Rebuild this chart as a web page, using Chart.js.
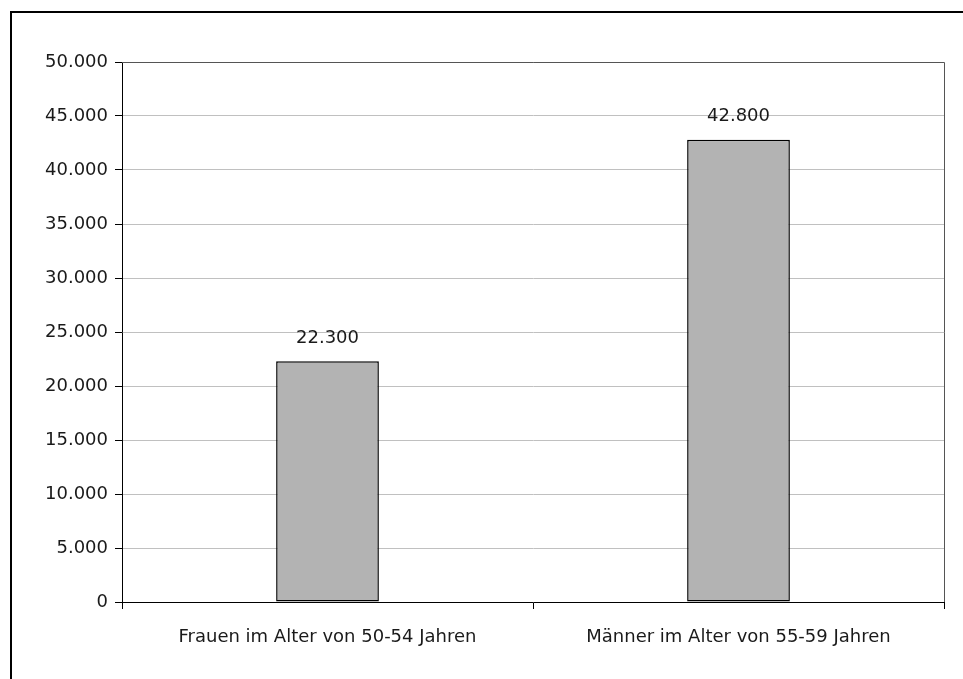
<!DOCTYPE html>
<html>
<head>
<meta charset="utf-8">
<script src="https://cdn.jsdelivr.net/npm/chart.js@4.4.1/dist/chart.umd.min.js"></script>
<style>
  html, body { margin: 0; padding: 0; background: #ffffff; }
  #wrap { width: 963px; height: 679px; position: relative; }
</style>
</head>
<body>
<div id="wrap"><canvas id="chart" width="963" height="679"></canvas></div>
<script>
// Categories and values
const categories = ['Frauen im Alter von 50-54 Jahren', 'Männer im Alter von 55-59 Jahren'];
const values = [22300, 42800];
const yMin = 0;
const yMax = 50000;
const yStep = 5000;

const FONT = "'DejaVu Sans', sans-serif";
const TEXT_COLOR = '#1a1a1a';

// German number format: thousands separated by a dot
function fmt(v) {
  return String(Math.round(v)).replace(/\B(?=(\d{3})+(?!\d))/g, '.');
}

// Outer frame around the whole chart
const framePlugin = {
  id: 'frame',
  beforeDraw(chart) {
    const ctx = chart.ctx;
    ctx.save();
    ctx.fillStyle = '#ffffff';
    ctx.fillRect(0, 0, chart.width, chart.height);
    ctx.strokeStyle = '#000000';
    ctx.lineWidth = 2;
    ctx.strokeRect(11, 12, 1200, 1200);
    ctx.restore();
  }
};

// Dark border on the top and right side of the plot area
const plotBorderPlugin = {
  id: 'plotBorder',
  afterDatasetsDraw(chart) {
    const { ctx, chartArea: a } = chart;
    ctx.save();
    ctx.strokeStyle = '#555555';
    ctx.lineWidth = 1;
    ctx.beginPath();
    ctx.moveTo(a.left, Math.round(a.top) + 0.5);
    ctx.lineTo(Math.round(a.right) + 0.5, Math.round(a.top) + 0.5);
    ctx.lineTo(Math.round(a.right) + 0.5, a.bottom);
    ctx.stroke();
    ctx.restore();
  }
};

// Value labels above the bars
const valueLabelPlugin = {
  id: 'valueLabels',
  afterDatasetsDraw(chart) {
    const ctx = chart.ctx;
    const meta = chart.getDatasetMeta(0);
    ctx.save();
    ctx.font = '18px ' + FONT;
    ctx.fillStyle = TEXT_COLOR;
    ctx.textAlign = 'center';
    ctx.textBaseline = 'middle';
    meta.data.forEach((bar, i) => {
      ctx.fillText(fmt(chart.data.datasets[0].data[i]), bar.x, bar.y - 23);
    });
    ctx.restore();
  }
};

new Chart(document.getElementById('chart'), {
  type: 'bar',
  data: {
    labels: categories,
    datasets: [{
      data: values,
      backgroundColor: '#b3b3b3',
      borderColor: '#000000',
      borderWidth: 1.5,
      borderSkipped: false,
      categoryPercentage: 1.0,
      barPercentage: 0.25
    }]
  },
  options: {
    responsive: false,
    animation: false,
    devicePixelRatio: 1,
    layout: { padding: { left: 0, top: 62, right: 19, bottom: 0 } },
    plugins: {
      legend: { display: false },
      tooltip: { enabled: false },
      title: { display: false }
    },
    scales: {
      x: {
        offset: true,
        grid: {
          offset: true,
          drawOnChartArea: false,
          drawTicks: true,
          tickLength: 7,
          tickColor: '#000000'
        },
        border: { color: '#000000', width: 1 },
        ticks: {
          color: TEXT_COLOR,
          font: { family: FONT, size: 18 },
          padding: 18,
          maxRotation: 0,
          autoSkip: false
        },
        afterFit(scale) { scale.height = 77; }
      },
      y: {
        min: yMin,
        max: yMax,
        ticks: {
          stepSize: yStep,
          color: TEXT_COLOR,
          font: { family: FONT, size: 18 },
          padding: 7,
          callback: (v) => fmt(v)
        },
        grid: {
          color: '#c0c0c0',
          tickColor: '#000000',
          tickLength: 7,
          drawTicks: true
        },
        border: { color: '#000000', width: 1 },
        afterFit(scale) { scale.width = 122; }
      }
    }
  },
  plugins: [framePlugin, plotBorderPlugin, valueLabelPlugin]
});
</script>
</body>
</html>
